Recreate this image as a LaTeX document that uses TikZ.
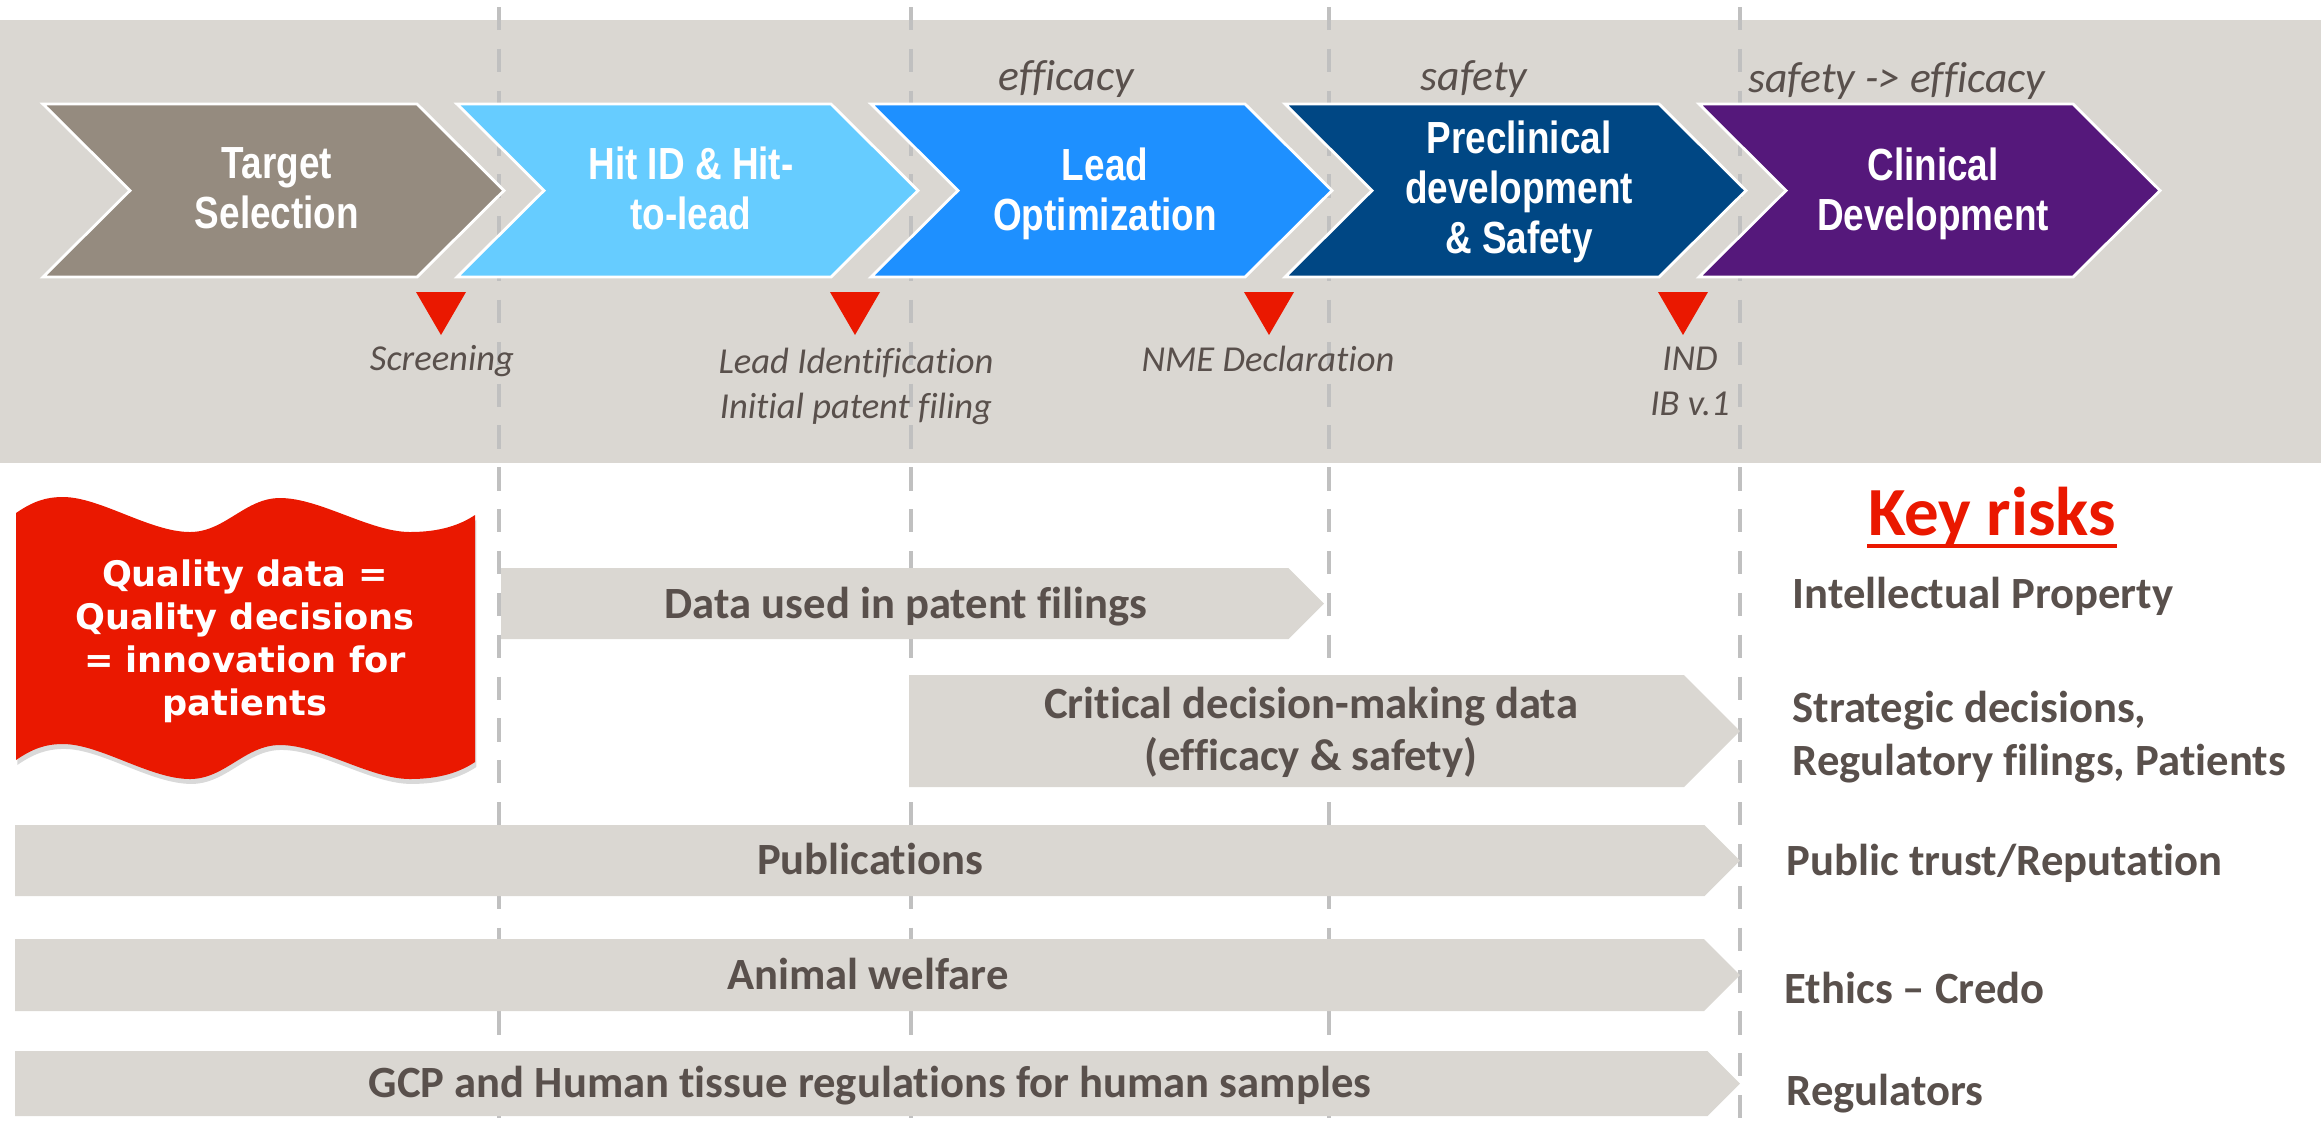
\documentclass[tikz,border=0pt]{standalone}
\usepackage{fontspec}
\setmainfont{Carlito}[Ligatures=NoCommon]
\newfontfamily\chevfont[FakeStretch=0.82]{Liberation Sans}
\newfontfamily\flagfont{DejaVu Sans}
\usetikzlibrary{calc,shadows}
\definecolor{bandgray}{RGB}{218,215,210}
\definecolor{textgray}{RGB}{89,80,76}
\definecolor{dashgray}{RGB}{192,192,192}
\definecolor{targetgray}{RGB}{149,139,127}
\definecolor{hitblue}{RGB}{102,204,255}
\definecolor{leadblue}{RGB}{30,144,255}
\definecolor{preclinblue}{RGB}{0,71,132}
\definecolor{clinpurple}{RGB}{85,24,123}
\definecolor{riskred}{RGB}{234,24,0}

\begin{document}
\begin{tikzpicture}[x=0.01cm, y=-0.01cm,
  chevtext/.style={align=center, inner sep=0pt, text=white,
    font=\chevfont\bfseries\fontsize{12.8}{14.2}\selectfont},
  milestone/.style={align=center, inner sep=0pt, text=textgray,
    font=\itshape\fontsize{10.4}{12.8}\selectfont},
  focus/.style={milestone, anchor=base, font=\itshape\fontsize{12.4}{14}\selectfont},
  bartext/.style={align=center, inner sep=0pt, text=textgray,
    font=\bfseries\fontsize{12.7}{14.8}\selectfont},
  risk/.style={align=left, inner sep=0pt, text=textgray,
    font=\bfseries\fontsize{12.7}{15.1}\selectfont},
  flagtext/.style={align=center, inner sep=0pt, text=white,
    font=\flagfont\bfseries\fontsize{10}{12.2}\selectfont},
  guide/.style={dashgray, line width=1.4pt, dash pattern=on 6.6pt off 5.3pt},
  bar/.style={fill=bandgray}]
\useasboundingbox (0,0) rectangle (2321,1126);

% ---- phase band and stage guides ----
\fill[bandgray] (0,20) rectangle (2321,463);
\foreach \gx in {499,911,1329,1740}
  \draw[guide] (\gx,7) -- (\gx,1126);

% ---- phase chevrons ----
\foreach \i/\col/\cy/\txt in {
    0/targetgray/188.5/{Target\\Selection},
    1/hitblue/188.5/{Hit ID \& Hit-\\to-lead},
    2/leadblue/193.5/{Lead\\Optimization},
    3/preclinblue/192/{Preclinical\\development\\\& Safety},
    4/clinpurple/193.5/{Clinical\\Development}} {
  \pgfmathsetmacro\L{43+414*\i}
  \filldraw[fill=\col, draw=white, line width=0.8pt]
    (\L,104) -- (\L+374,104) -- (\L+461,190.5) -- (\L+374,277)
    -- (\L,277) -- (\L+87,190.5) -- cycle;
  \node[chevtext] (phase\i) at (\L+234,\cy) {\txt};
}

% ---- milestones ----
\foreach \i in {0,...,3} {
  \pgfmathsetmacro\L{43+414*\i}
  \fill[riskred] (\L+373,292) -- (\L+423,292) -- (\L+398,335) -- cycle;
}
\node[milestone, anchor=base] (screen) at (442,370) {Screening};
\node[milestone] (leadid) at (856,386) {Lead Identification\\Initial patent filing};
\node[milestone, anchor=base] (nme) at (1268,371) {NME Declaration};
\node[milestone] (ind) at (1690,381.5) {IND\\IB v.1};

\node[focus] (focus2) at (1066,90) {efficacy};
\node[focus] (focus3) at (1474,90) {safety};
\node[focus] (focus4) at (1897,92) {safety -> efficacy};

% ---- motto flag ----
\fill[riskred, drop shadow={opacity=0.3, shadow xshift=0.4pt, shadow yshift=-1.4pt}]
  (16,513) .. controls (32,502) and (45,497) .. (63,497)
  .. controls (100,497) and (150,532) .. (190,532)
  .. controls (225,532) and (245,498) .. (280,498)
  .. controls (320,498) and (370,532) .. (410,532)
  .. controls (440,532) and (460,525) .. (475,515)
  -- (475,762)
  .. controls (460,772) and (440,779) .. (410,779)
  .. controls (370,779) and (320,745) .. (280,745)
  .. controls (245,745) and (225,779) .. (190,779)
  .. controls (150,779) and (100,744) .. (63,744)
  .. controls (45,744) and (32,749) .. (16,760) -- cycle;
\node[flagtext] (motto) at (245,641.5)
  {Quality data =\\Quality decisions\\= innovation for\\patients};

% ---- data streams ----
\foreach \xa/\xb/\ya/\yb in {501/1324/568/639, 909/1740/675/787,
    15/1740/825/896, 15/1740/939/1011, 15/1740/1051/1116} {
  \pgfmathsetmacro\ym{(\ya+\yb)/2}
  \pgfmathsetmacro\xc{\xb-(\yb-\ya)/2}
  \fill[bar] (\xa,\ya) -- (\xc,\ya) -- (\xb,\ym) -- (\xc,\yb) -- (\xa,\yb) -- cycle;
}
\node[bartext, anchor=base] (patent) at (906,618) {Data used in patent filings};
\node[bartext] (critical) at (1311,732.5) {Critical decision-making data\\(efficacy \& safety)};
\node[bartext, anchor=base] (pubs) at (870,874) {Publications};
\node[bartext, anchor=base] (animal) at (868,989) {Animal welfare};
\node[bartext, anchor=base] (gcp) at (870,1097) {GCP and Human tissue regulations for human samples};

% ---- key risks ----
\node[anchor=base, inner sep=0pt, text=riskred,
  font=\bfseries\fontsize{19.6}{22}\selectfont] (keyrisks) at (1992,535) {Key risks};
\draw[riskred, line width=1.15pt]
  ($(keyrisks.base west)+(0,11)$) -- ($(keyrisks.base east)+(0,11)$);
\node[risk, anchor=base west] (riskip) at (1792,608) {Intellectual Property};
\node[risk, anchor=west] (riskstrat) at (1792,737.5) {Strategic decisions,\\Regulatory filings, Patients};
\node[risk, anchor=base west] (riskpub) at (1786,875) {Public trust/Reputation};
\node[risk, anchor=base west] (riskethics) at (1784,1003) {Ethics -- Credo};
\node[risk, anchor=base west] (riskreg) at (1786,1105) {Regulators};
\end{tikzpicture}
\end{document}
